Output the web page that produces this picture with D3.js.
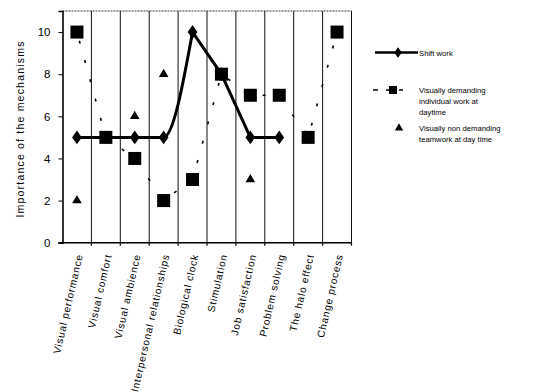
<!DOCTYPE html>
<html>
<head>
<meta charset="utf-8">
<script src="https://cdn.jsdelivr.net/npm/d3@7/dist/d3.min.js"></script>
<style>
  html, body { margin: 0; padding: 0; background: #fff; }
  svg { display: block; font-family: Arial, "Liberation Sans", sans-serif; }
</style>
</head>
<body>
<svg id="chart" width="558" height="392"></svg>
<script>
// Mechanisms on the x axis
const categories = [
  "Visual performance", "Visual comfort", "Visual ambience",
  "Interpersonal relationships", "Biological clock", "Stimulation",
  "Job satisfaction", "Problem solving", "The halo effect", "Change process"
];
// Shift work (solid line with diamonds)
const shiftWork = [5, 5, 5, 5, 10, 8, 5, 5, null, null];
// Visually demanding individual work at daytime (squares)
const demandingIndividual = [10, 5, 4, 2, 3, 8, 7, 7, 5, 10];
// Visually non demanding teamwork at day time (triangles)
const nonDemandingTeam = [2, null, 6, 8, null, null, 3, null, null, null];
// Y axis ticks
const yTicks = [0, 2, 4, 6, 8, 10];

const svg = d3.select("#chart");
svg.append("rect").attr("width", 558).attr("height", 392).attr("fill", "#fff");

const plot = { left: 62.5, right: 351.5, top: 11, bottom: 242.7 };

const x = d3.scaleBand().domain(categories).range([plot.left, plot.right]);
const y = d3.scaleLinear().domain([0, 11]).range([plot.bottom, plot.top]);
const cx = c => x(c) + x.bandwidth() / 2;

// Frame: dotted top edge, solid boundaries between categories
svg.append("line")
  .attr("x1", plot.left).attr("x2", plot.right)
  .attr("y1", plot.top).attr("y2", plot.top)
  .attr("stroke", "#333").attr("stroke-width", 1).attr("stroke-dasharray", "2,1");

const bounds = categories.map(c => x(c) + x.bandwidth());
svg.append("g").selectAll("line").data(bounds).join("line")
  .attr("x1", d => d).attr("x2", d => d)
  .attr("y1", plot.top).attr("y2", plot.bottom)
  .attr("stroke", "#111").attr("stroke-width", 1);

// X axis with ticks at category boundaries
svg.append("line")
  .attr("x1", plot.left - 4).attr("x2", plot.right)
  .attr("y1", plot.bottom).attr("y2", plot.bottom)
  .attr("stroke", "#000").attr("stroke-width", 1.6);
svg.append("g").selectAll("line").data(bounds).join("line")
  .attr("x1", d => d).attr("x2", d => d)
  .attr("y1", plot.bottom).attr("y2", plot.bottom + 3)
  .attr("stroke", "#000").attr("stroke-width", 1.2);

// Y axis
const yAxis = svg.append("g").attr("transform", `translate(${plot.left},0)`)
  .call(d3.axisLeft(y).tickValues(yTicks).tickSize(4).tickPadding(8));
yAxis.select(".domain").attr("stroke", "#000").attr("stroke-width", 1.6);
yAxis.selectAll(".tick line").attr("stroke", "#000");
yAxis.selectAll(".tick text")
  .attr("font-size", 11.5).attr("font-family", "Arial, 'Liberation Sans', sans-serif")
  .attr("fill", "#000");

// Y axis title
svg.append("text")
  .attr("transform", "translate(24,129) rotate(-90)")
  .attr("text-anchor", "middle")
  .attr("font-size", 10.5).attr("letter-spacing", 1.2)
  .text("Importance of the mechanisms");

// X category labels, steeply rotated
svg.append("g").selectAll("text").data(categories).join("text")
  .attr("transform", d => `translate(${cx(d) + 6},255) rotate(-77)`)
  .attr("text-anchor", "end")
  .attr("font-size", 10.2).attr("letter-spacing", 0.8)
  .text(d => d);

// Shift work line: smoothed rise up to the peak, straight segments after it
const shiftPts = categories.map((c, i) => ({ c, v: shiftWork[i] })).filter(d => d.v != null);
const peakIdx = shiftPts.reduce((m, d, i, a) => d.v > a[m].v ? i : m, 0);
const lineGen = d3.line().x(d => cx(d.c)).y(d => y(d.v));
svg.append("path")
  .datum(shiftPts.slice(0, peakIdx + 1))
  .attr("fill", "none").attr("stroke", "#000").attr("stroke-width", 3)
  .attr("stroke-linejoin", "round")
  .attr("d", lineGen.curve(d3.curveMonotoneX));
svg.append("path")
  .datum(shiftPts.slice(peakIdx))
  .attr("fill", "none").attr("stroke", "#000").attr("stroke-width", 3)
  .attr("stroke-linejoin", "round")
  .attr("d", lineGen.curve(d3.curveLinear));

const diamond = d3.symbol().type(d3.symbolDiamond).size(62);
svg.append("g").selectAll("path").data(shiftPts).join("path")
  .attr("transform", d => `translate(${cx(d.c)},${y(d.v)}) scale(1.15,0.95)`)
  .attr("d", diamond).attr("fill", "#000");

// Demanding individual work: sparse dashed line with squares
const indPts = categories.map((c, i) => ({ c, v: demandingIndividual[i] }));
svg.append("path")
  .datum(indPts)
  .attr("fill", "none").attr("stroke", "#000").attr("stroke-width", 1.6)
  .attr("stroke-dasharray", "3,17").attr("stroke-dashoffset", -9)
  .attr("d", d3.line().x(d => cx(d.c)).y(d => y(d.v)));

const sq = 13;
svg.append("g").selectAll("rect").data(indPts).join("rect")
  .attr("x", d => cx(d.c) - sq / 2).attr("y", d => y(d.v) - sq / 2)
  .attr("width", sq).attr("height", sq).attr("fill", "#000");

// Non demanding teamwork: triangles
const teamPts = categories.map((c, i) => ({ c, v: nonDemandingTeam[i] })).filter(d => d.v != null);
const tri = d3.symbol().type(d3.symbolTriangle).size(40);
svg.append("g").selectAll("path").data(teamPts).join("path")
  .attr("transform", d => `translate(${cx(d.c)},${y(d.v)})`)
  .attr("d", tri).attr("fill", "#000");

// Legend
const lg = svg.append("g").attr("font-size", 7.7).attr("fill", "#000");
lg.append("line").attr("x1", 375).attr("x2", 418).attr("y1", 52.5).attr("y2", 52.5)
  .attr("stroke", "#000").attr("stroke-width", 2.5);
lg.append("path").attr("transform", "translate(398,52.5) scale(1.1,0.9)")
  .attr("d", d3.symbol().type(d3.symbolDiamond).size(40)).attr("fill", "#000");
lg.append("text").attr("x", 419).attr("y", 55.5).text("Shift work");

lg.append("line").attr("x1", 373).attr("x2", 403).attr("y1", 90).attr("y2", 90)
  .attr("stroke", "#000").attr("stroke-width", 1.6).attr("stroke-dasharray", "5,8");
lg.append("rect").attr("x", 389).attr("y", 86).attr("width", 8).attr("height", 8).attr("fill", "#000");
["Visually demanding", "individual work at", "daytime"].forEach((t, i) =>
  lg.append("text").attr("x", 419).attr("y", 93 + i * 11).text(t));

lg.append("path").attr("transform", "translate(399,128)")
  .attr("d", d3.symbol().type(d3.symbolTriangle).size(30)).attr("fill", "#000");
["Visually non demanding", "teamwork at day time"].forEach((t, i) =>
  lg.append("text").attr("x", 419).attr("y", 131 + i * 11).text(t));
</script>
</body>
</html>
